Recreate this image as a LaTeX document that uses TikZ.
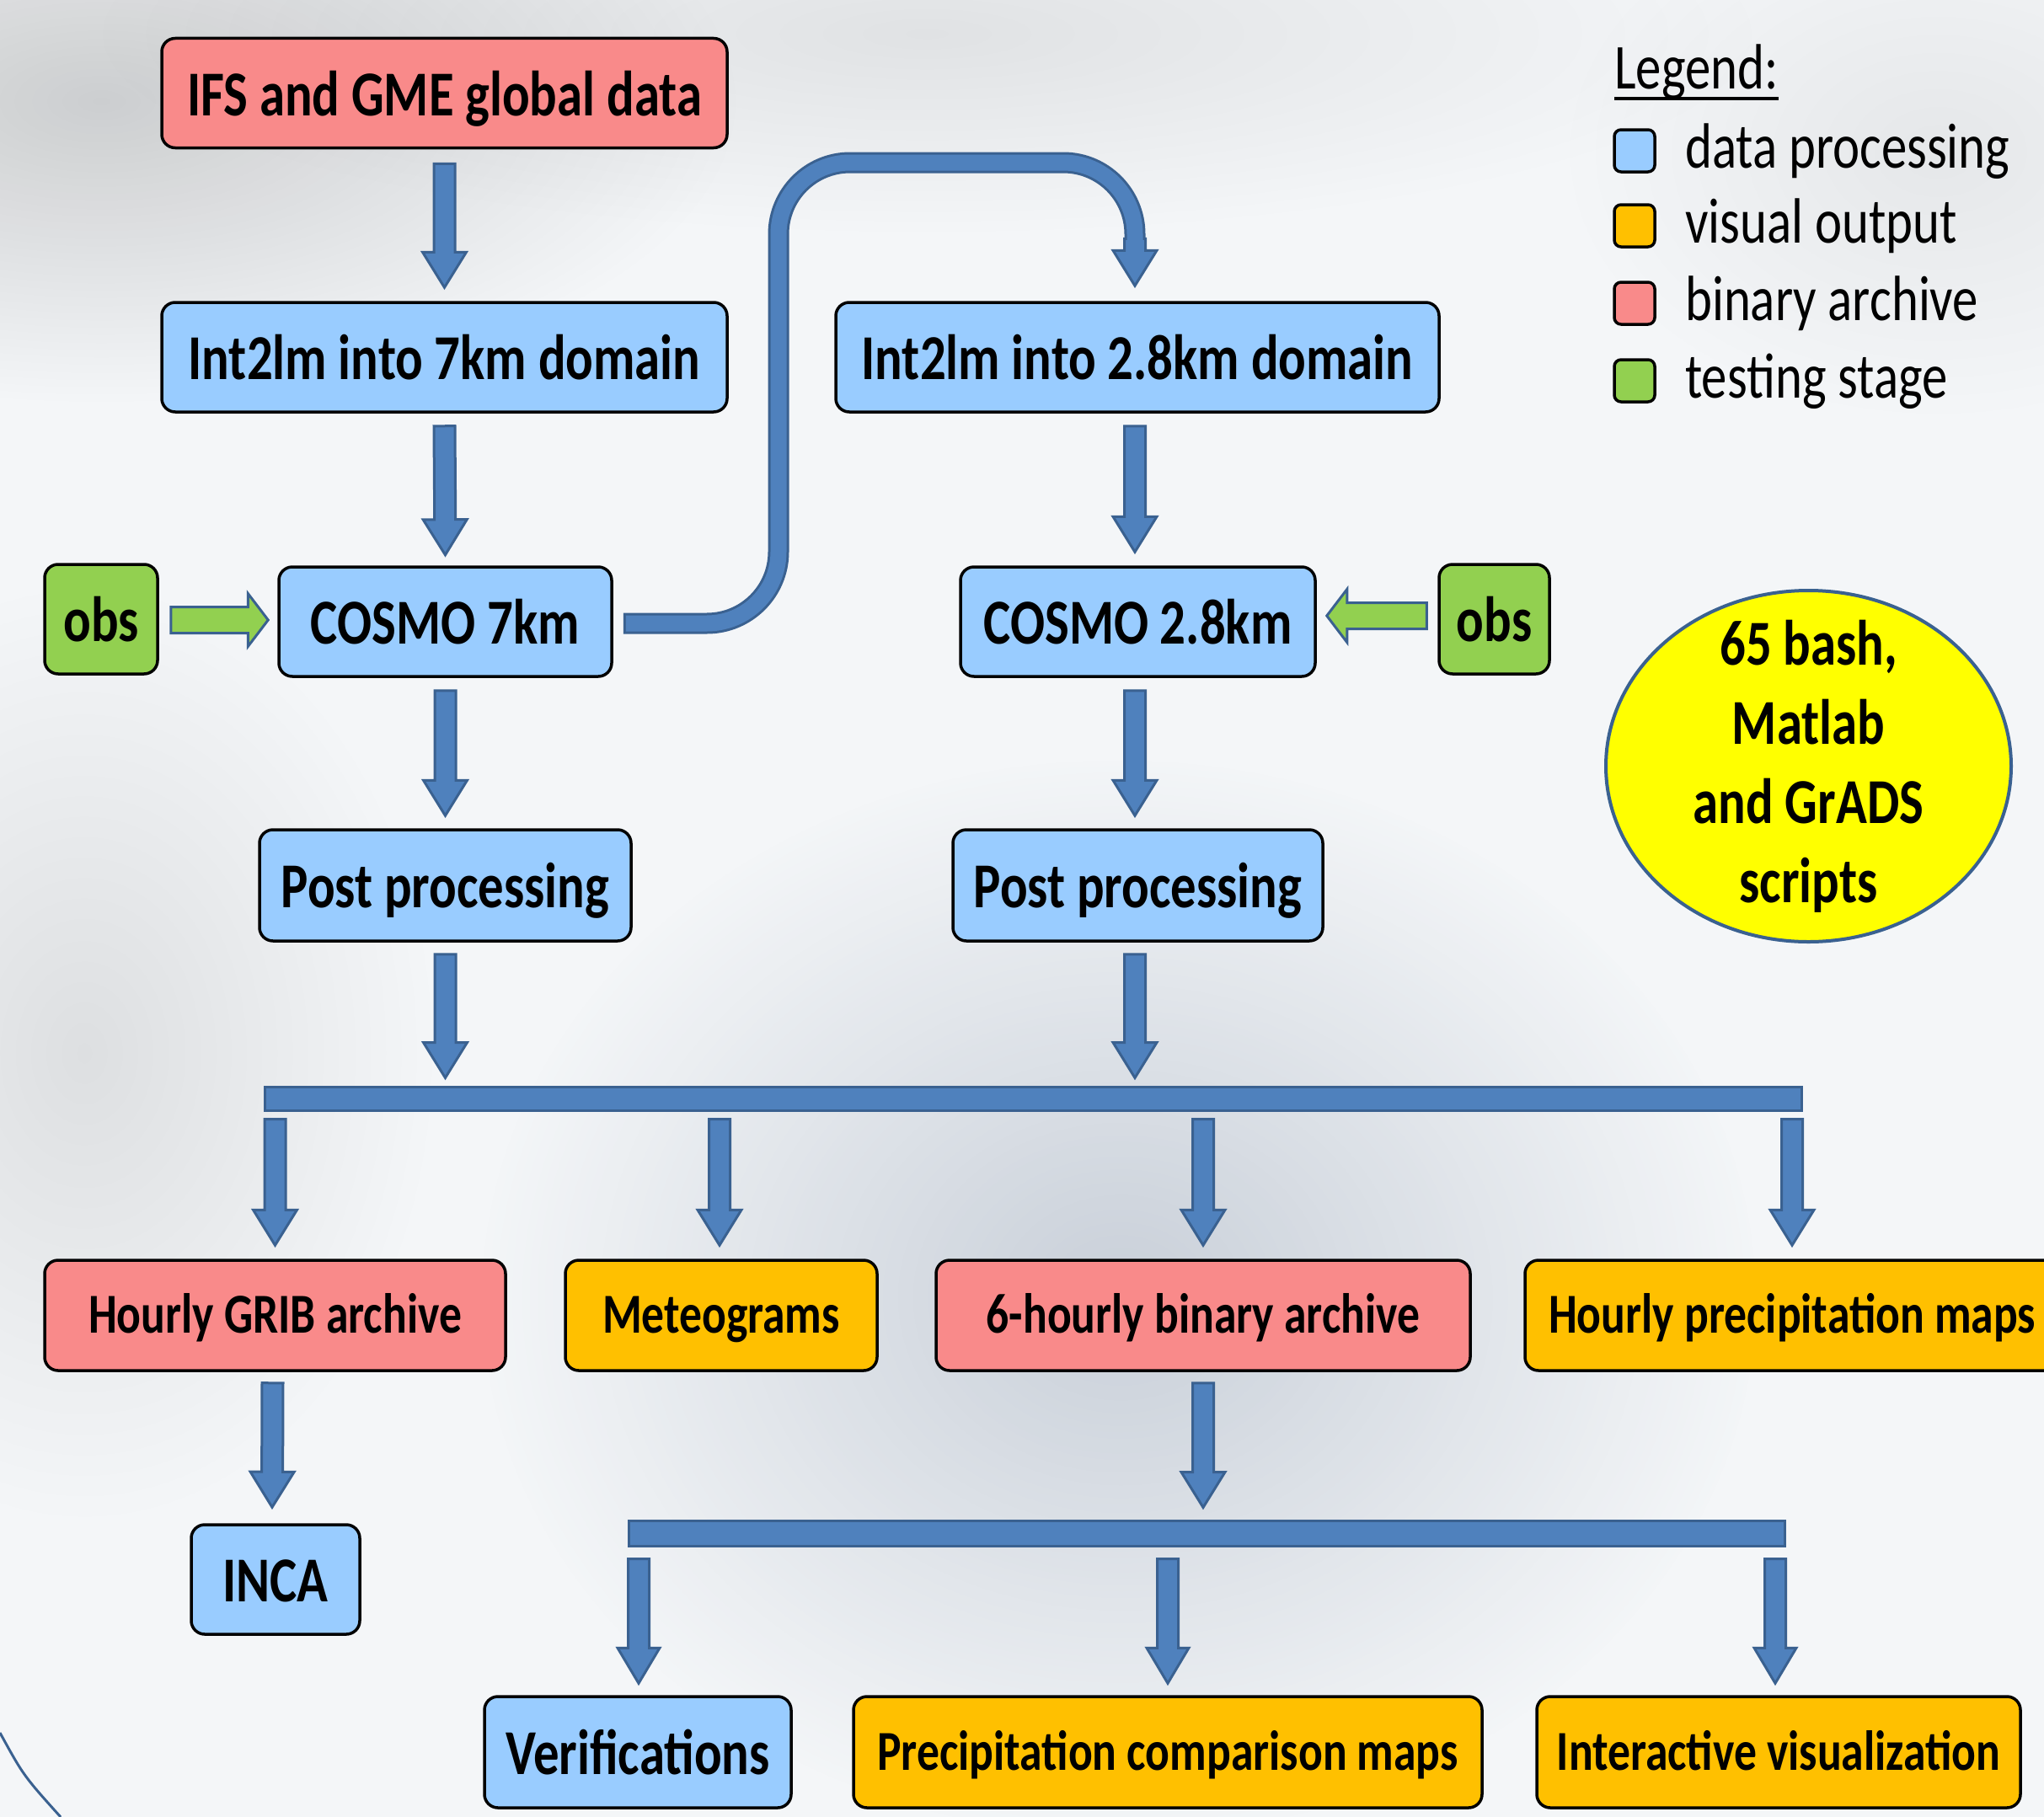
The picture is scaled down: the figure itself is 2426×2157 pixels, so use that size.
\documentclass[tikz,border=0pt]{standalone}
\usepackage{fontspec}
\setmainfont{Carlito}[FakeStretch=0.8]
\usetikzlibrary{calc,shapes.geometric,fadings}
\definecolor{boxblue}{HTML}{99CCFF}
\definecolor{boxred}{HTML}{F98A8A}
\definecolor{boxorange}{HTML}{FFC000}
\definecolor{boxgreen}{HTML}{92D050}
\definecolor{arrowfill}{HTML}{4F81BD}
\definecolor{arrowedge}{HTML}{3A6190}
\definecolor{bgcol}{HTML}{F4F6F8}
\definecolor{ellyellow}{HTML}{FFFF00}
\definecolor{cloudgray}{HTML}{6E7F98}

\tikzfading[name=softblob, inner color=transparent!0, outer color=transparent!100]

% generic straight block arrow: style, from, to, shaft half width, head half width, head length
\newcommand{\blockarrow}[6]{%
  \path[#1] let \p1=(#2), \p2=(#3),
    \n1={atan2(\y2-\y1,\x2-\x1)}, \n2={veclen(\x2-\x1,\y2-\y1)} in
    [shift={(\p1)}, rotate=\n1]
    (0pt,-#4) -- ({\n2*1pt-#6},-#4) -- ({\n2*1pt-#6},-#5) -- ({\n2*1pt},0pt)
    -- ({\n2*1pt-#6},#5) -- ({\n2*1pt-#6},#4) -- (0pt,#4) -- cycle;}

\tikzset{
  box/.style={draw=black, line width=3.5pt, rounded corners=16pt, inner sep=0pt,
    minimum height=130pt, text height=53pt, text depth=0pt,
    font=\fontsize{76}{90}\selectfont\bfseries},
  smallbox/.style={box, minimum height=131pt, text height=41pt,
    font=\fontsize{67}{80}\selectfont\bfseries},
  procbox/.style={fill=boxblue},
  visbox/.style={fill=boxorange},
  archbox/.style={fill=boxred},
  testbox/.style={fill=boxgreen},
  bluearrow/.style={fill=arrowfill, draw=arrowedge, line width=3pt, line join=miter},
  greenarrow/.style={fill=boxgreen, draw=arrowedge, line width=3pt, line join=miter},
  busbar/.style={fill=arrowfill, draw=arrowedge, line width=3pt, inner sep=0pt},
  legsq/.style={draw=black, line width=3.5pt, rounded corners=8pt, inner sep=0pt,
    minimum width=48pt, minimum height=50pt},
  legtext/.style={anchor=base west, inner sep=0pt, font=\fontsize{76}{90}\selectfont},
  blob/.style={fill=#1, path fading=softblob},
}

\begin{document}
\begin{tikzpicture}[x=1pt, y=-1pt]
\useasboundingbox (0,0) rectangle (2426,2157);
% background
\fill[bgcol] (0,0) rectangle (2426,2157);
\begin{scope}
\clip (0,0) rectangle (2426,2157);
\fill[blob=black, fill opacity=0.16] (120,120) ellipse [x radius=760, y radius=360];
\fill[blob=black, fill opacity=0.08] (1100,40) ellipse [x radius=1000, y radius=240];
\fill[blob=black, fill opacity=0.09] (100,1250) ellipse [x radius=420, y radius=560];
\fill[blob=cloudgray, fill opacity=0.32] (1330,1540) ellipse [x radius=760, y radius=640];
\fill[blob=black, fill opacity=0.06] (2300,180) ellipse [x radius=450, y radius=320];
\end{scope}
\draw[arrowedge, line width=3pt] (0,2057) .. controls (28,2108) .. (72,2157);

% left column
\node[box, archbox, minimum width=671pt] (ifs) at (527.5,110.5) {IFS and GME global data};
\node[box, procbox, minimum width=671pt] (int7) at (527.5,424) {Int2lm into 7km domain};
\node[box, procbox, minimum width=395pt] (cosmo7) at (528.5,738) {COSMO 7km};
\node[box, testbox, minimum width=134pt] (obsL) at (120,735) {obs};
\node[box, procbox, minimum width=441pt, minimum height=132pt] (ppL) at (528.5,1051) {Post processing};

% right column
\node[box, procbox, minimum width=716pt] (int28) at (1350,424) {Int2lm into 2.8km domain};
\node[box, procbox, minimum width=421pt] (cosmo28) at (1350.5,738) {COSMO 2.8km};
\node[box, testbox, minimum width=131pt] (obsR) at (1773.5,735) {obs};
\node[box, procbox, minimum width=439pt, minimum height=132pt] (ppR) at (1350.5,1051) {Post processing};

% bus bars
\node[busbar, minimum width=1824pt, minimum height=28pt] (bus1) at (1226,1304) {};
\node[busbar, minimum width=1372pt, minimum height=30pt] (bus2) at (1432,1820) {};

% output row
\node[smallbox, archbox, minimum width=547pt] (grib) at (326.5,1561.5) {Hourly GRIB archive};
\node[smallbox, visbox, minimum width=370pt] (meteo) at (856,1561.5) {Meteograms};
\node[smallbox, archbox, minimum width=634pt] (six) at (1428,1561.5) {6-hourly binary archive};
\node[smallbox, visbox, minimum width=634pt] (hpm) at (2127,1561.5) {Hourly precipitation maps};
\node[box, procbox, minimum width=200pt] (inca) at (327,1875) {INCA};

% last row
\node[box, procbox, minimum width=364pt, minimum height=132pt] (verif) at (757,2080) {Verifications};
\node[smallbox, visbox, minimum width=746pt, minimum height=132pt, text height=42pt] (pcm) at (1386,2080) {Precipitation comparison maps};
\node[smallbox, visbox, minimum width=574pt, minimum height=132pt, text height=42pt] (iv) at (2111,2080) {Interactive visualization};

% vertical arrows
\blockarrow{bluearrow}{$(ifs.south)+(0,17)$}{$(int7.north)+(0,-16)$}{12.5pt}{26pt}{42pt}
\blockarrow{bluearrow}{$(int7.south)+(0,15)$}{$(cosmo7.north |- int7.south)+(0,168)$}{12.5pt}{26pt}{42pt}
\blockarrow{bluearrow}{$(cosmo7.south)+(0,15)$}{$(ppL.north)+(0,-15)$}{12.5pt}{26pt}{42pt}
\blockarrow{bluearrow}{$(ppL.south)+(0,14)$}{$(ppL.south |- bus1.north)+(0,-9)$}{12.5pt}{26pt}{42pt}
\blockarrow{bluearrow}{$(int28.south)+(-3,15)$}{$(cosmo28.north)+(-3.5,-16)$}{12.5pt}{26pt}{42pt}
\blockarrow{bluearrow}{$(cosmo28.south)+(-3.5,15)$}{$(ppR.north)+(-3.5,-15)$}{12.5pt}{26pt}{42pt}
\blockarrow{bluearrow}{$(ppR.south)+(-3.5,14)$}{$(ppR.south |- bus1.north)+(-3.5,-9)$}{12.5pt}{26pt}{42pt}

\blockarrow{bluearrow}{$(grib.north |- bus1.south)+(0,9)$}{$(grib.north)+(0,-16)$}{12.5pt}{26pt}{42pt}
\blockarrow{bluearrow}{$(meteo.north |- bus1.south)+(-2,9)$}{$(meteo.north)+(-2,-16)$}{12.5pt}{26pt}{42pt}
\blockarrow{bluearrow}{$(six.north |- bus1.south)+(0,9)$}{$(six.north)+(0,-16)$}{12.5pt}{26pt}{42pt}
\blockarrow{bluearrow}{$(hpm.north |- bus1.south)+(0,9)$}{$(hpm.north)+(0,-16)$}{12.5pt}{26pt}{42pt}

\blockarrow{bluearrow}{$(grib.south)+(-3,13)$}{$(inca.north)+(-4,-19)$}{12.5pt}{26pt}{42pt}
\blockarrow{bluearrow}{$(six.south)+(0,13)$}{$(six.south |- bus2.north)+(0,-14)$}{12.5pt}{26pt}{42pt}

\blockarrow{bluearrow}{$(verif.north |- bus2.south)+(1,14)$}{$(verif.north)+(1,-14)$}{12.5pt}{25pt}{42pt}
\blockarrow{bluearrow}{$(pcm.north |- bus2.south)+(0,14)$}{$(pcm.north)+(0,-14)$}{12.5pt}{25pt}{42pt}
\blockarrow{bluearrow}{$(iv.north |- bus2.south)+(-4,14)$}{$(iv.north)+(-4,-14)$}{12.5pt}{25pt}{42pt}

% green arrows from obs
\blockarrow{greenarrow}{$(obsL.east)+(14,1)$}{$(obsL.east -| cosmo7.west)+(-11,1)$}{15.5pt}{31.5pt}{24pt}
\blockarrow{greenarrow}{$(obsR.west)+(-13,-4)$}{$(obsR.west -| cosmo28.east)+(12,-4)$}{15.5pt}{31.5pt}{24pt}

% curved connector COSMO 7km -> Int2lm 2.8km
\coordinate (k1) at (924,740);
\coordinate (k2) at (924,193);
\coordinate (k3) at (1347,193);
\draw[arrowedge, line width=25pt, rounded corners=85pt]
  ($(cosmo7.east)+(12,2)$) -- (k1) -- (k2) -- (k3) -- ($(int28.north)+(-3,-60)$);
\blockarrow{bluearrow}{$(int28.north)+(-3,-74)$}{$(int28.north)+(-3,-18)$}{12.5pt}{26pt}{42pt}
\draw[arrowfill, line width=19pt, rounded corners=85pt]
  ($(cosmo7.east)+(15,2)$) -- (k1) -- (k2) -- (k3) -- ($(int28.north)+(-3,-68)$);

% ellipse with its text
\node[ellipse, draw=arrowedge, line width=4pt, fill=ellyellow, minimum width=481pt,
  minimum height=417pt, inner sep=0pt] (scripts) at (2146.5,909.5) {};
\node[inner sep=0pt, align=center, font=\fontsize{76}{94}\selectfont\bfseries]
  (scriptstext) at (scripts.center) {65 bash,\\Matlab\\and GrADS\\scripts};

% legend
\node[legtext] (legtitle) at (1916,106) {Legend:};
\draw[line width=3.5pt] ($(legtitle.base west)+(0,11)$) -- ($(legtitle.base east)+(0,11)$);
\node[legsq, fill=boxblue] (lg1) at (1940,179) {};
\node[legsq, fill=boxorange] (lg2) at (1940,268) {};
\node[legsq, fill=boxred] (lg3) at (1940,360) {};
\node[legsq, fill=boxgreen] (lg4) at (1940,452) {};
\node[legtext] (lt1) at (2000,199) {data processing};
\node[legtext] (lt2) at (2000,288) {visual output};
\node[legtext] (lt3) at (2000,380) {binary archive};
\node[legtext] (lt4) at (2000,472) {testing stage};
\end{tikzpicture}
\end{document}
